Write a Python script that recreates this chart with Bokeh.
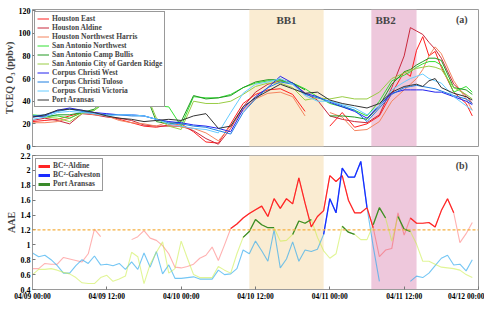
import math
from bokeh.plotting import figure
from bokeh.models import BoxAnnotation, Span, Label, Legend, LegendItem, FixedTicker, AllLabels
from bokeh.layouts import column
from bokeh.embed import file_html
from bokeh.resources import INLINE

nan = float("nan")

# ---------------- data: panel (a), TCEQ O3 (ppbv) ----------------
hours_a = list(range(0, 60, 2)) + [60, 61, 62, 63, 64, 65, 66, 68, 70, 71]

houston_east = [22, 23, 24, 27, 30, 29, 27, 24, 21, 18, 17, 19, 20, 13, 4, 3, 20, 38, 46, 50,
                51, 46, 31, nan, 18, 30, 17, 20, 27, 47, 66, 62, 85, 97, 80, 84, 70, 48, 38, 27]
houston_aldine = [23, 25, 23, 20, 29, 28, 26, 25, 23, 19, 18, 18, 18, 14, 7, 2, 16, 35, 48, 55,
                  58, 56, 47, 41, 27, 24, 22, 21, 28, 52, 80, 105, 102, 99, 92, 86, 78, 55, 45, 38]
houston_nw_harris = [21, 21, 22, 25, 30, 28, 27, 23, 21, 20, 18, 22, 17, 16, 12, 5, 18, 32, 42, 47,
                     48, 44, 27, nan, 30, 26, 14, 15, 22, 40, 50, 55, 60, 68, 80, 88, 82, 58, 42, 32]
sa_northwest = [28, 27, 27, 25, 30, 32, 40, 46, 46, 46, 36, 35, 18, 44, 43, 43, 46, 52, 56, 58,
                58, 56, 51, 44, 38, 35, 32, 27, 40, 58, 63, 66, 70, 73, 75, 75, 72, 48, 53, 48]
sa_camp_bullis = [27, 26, 28, 28, 30, 33, 45, 52, 52, 50, 22, 20, 22, 45, 42, 43, 45, 52, 57, 59,
                  59, 56, 50, nan, 27, 27, 26, 24, 36, 55, 66, 68, 72, 75, 78, 78, 76, 52, 50, 46]
sa_garden_ridge = [27, 26, 25, 22, 29, 32, 42, 51, 52, 51, 25, 18, 15, 40, 38, 38, 40, 46, 53, 56,
                   56, 52, 41, 43, 42, 44, 42, 42, 48, 60, 65, 67, 69, 70, 71, 70, 68, 52, 46, 42]
cc_west = [26, 27, 32, 34, 32, 30, 29, 28, 28, 27, 24, 22, 21, 19, 18, 16, 13, 33, 44, 52,
           62, 56, 47, 44, 39, 35, 31, 25, 36, 47, 50, 50, 50, 50, 49, 48, 48, 44, 40, 37]
cc_tuloso = [27, 28, 31, 33, 31, 29, 28, 28, 27, 27, 24, 21, 20, 18, 17, 14, 11, 30, 42, 52,
             57, 55, 46, 43, 40, 36, 32, 22, 34, 46, 52, 53, 54, 53, 52, 51, 49, 45, 42, 38]
cc_victoria = [24, 26, 30, 31, 30, 29, 27, 28, 28, 27, 24, 20, 18, 16, 15, 12, 30, 47, 55, 57,
               60, 55, 45, 40, 40, 37, 34, 28, 36, 50, 57, 60, 62, 64, 60, 58, 56, 44, 36, 32]
port_aransas_o3 = [26, 28, 32, 33, 32, 30, 27, 25, 24, 22, 23, 24, 23, 27, 29, 16, 18, 35, 43, 49,
                   55, 51, 47, 48, 41, 38, 36, 34, 38, 48, 53, 54, 55, 53, 58, 60, 52, 47, 44, 41]

series_a = [
    ("Houston East", houston_east, "#ff2020"),
    ("Houston Aldine", houston_aldine, "#c8283c"),
    ("Houston Northwest Harris", houston_nw_harris, "#f4845f"),
    ("San Antonio Northwest", sa_northwest, "#33e033"),
    ("San Antonio Camp Bullis", sa_camp_bullis, "#229922"),
    ("San Antonio City of Garden Ridge", sa_garden_ridge, "#99cc44"),
    ("Corpus Christi West", cc_west, "#2222ee"),
    ("Corpus Christi Tuloso", cc_tuloso, "#1e7fe0"),
    ("Corpus Christi Victoria", cc_victoria, "#66ccff"),
    ("Port Aransas", port_aransas_o3, "#333333"),
]

# ---------------- data: panel (b), AAE ----------------
hours_b = list(range(72))
aae_aldine = [0.68, 0.68, 0.75, 0.74, 0.74, 0.83, 0.81, 0.79, 0.77, 0.88,
              1.21, 1.11, nan, nan, nan, nan, 1.07, 1.11, 1.19, 1.09,
              1.06, 0.99, 0.88, 0.70, 0.69, 0.71, 0.74, 0.82, 0.86, 0.97,
              0.79, 1.00, 1.22, 1.28, 1.36, 1.42, 1.47, 1.52, 1.38, 1.62,
              1.49, 1.62, 1.55, 1.90, 1.56, 1.24, 1.38, 1.46, 1.93, 1.85,
              1.93, 1.60, 1.43, 1.43, 1.50, 1.23, 0.84, 0.93, 0.95, 1.43,
              1.13, 1.36, 1.29, 1.29, 1.30, 1.24, 1.46, 1.62, 1.43, 1.03,
              1.15, 1.30]
aae_galveston = [0.89, 0.84, 0.86, 0.80, 0.72, 0.62, 0.62, 0.72, 0.80, 0.75,
                 0.85, 0.73, 0.74, 0.72, 0.75, 0.67, 0.77, 0.67, 0.89, 0.70,
                 0.91, 0.61, 0.73, 0.55, 0.55, 0.56, 0.57, 0.54, 0.54, 0.54,
                 0.66, 0.60, 0.61, 0.68, 0.93, 0.88, 1.05, 0.92, 0.78, 1.20,
                 0.69, 0.81, 1.04, 0.78, 0.93, 0.91, 0.94, 1.14, 1.62, 1.43,
                 2.03, 1.91, 1.91, 2.12, 1.50, 0.98, 0.51, nan, nan, nan,
                 nan, 0.51, 0.58, 0.56, 0.62, 0.72, 0.82, 0.86, 0.73, 0.74,
                 0.65, 0.80]
aae_port_aransas = [0.60, 0.67, 0.67, 0.68, 0.66, 0.63, 0.61, 0.56, 0.49, 0.48,
                    0.48, 0.56, 0.59, 0.51, 0.54, 0.58, 0.90, 0.84, 0.48, 0.74,
                    0.90, 1.04, 0.62, 0.68, 1.05, 0.82, 0.60, 0.56, 0.56, 0.56,
                    0.71, 0.66, 0.62, 0.88, 1.10, 1.18, 1.34, 1.27, 1.23, 1.23,
                    1.05, 1.06, 1.14, 1.32, 1.29, 1.34, 1.10, 0.92, 0.82, 0.88,
                    1.25, 1.17, 1.14, 1.07, 1.07, 1.27, 1.50, 1.36, 1.05, 1.38,
                    1.21, 1.18, 1.01, 0.78, 0.78, 0.74, 0.70, 0.69, 0.68, 0.66,
                    0.60, 0.56]
# highlighted (dark) hour spans
aldine_hi = [(32, 55), (61, 68)]
galveston_hi = [(47, 54)]
port_aransas_hi = [(34, 39), (42, 45), (50, 52), (55, 57), (59, 61)]

aae_threshold = 1.2
bb1 = (35, 47)
bb2 = (54.7, 62)

x_ticks = [0, 12, 24, 36, 48, 60, 72]
x_tick_labels = ["04/09 00:00", "04/09 12:00", "04/10 00:00", "04/10 12:00",
                 "04/11 00:00", "04/11 12:00", "04/12 00:00"]
o3_ticks = [0, 20, 40, 60, 80, 100, 120]
o3_tick_labels = ["0", "20", "40", "60", "80", "100", "120"]
aae_ticks = [0.4, 0.6, 0.8, 1.0, 1.2, 1.4, 1.6, 1.8, 2.0, 2.2]
aae_tick_labels = ["0.4", "0.6", "0.8", "1", "1.2", "1.4", "1.6", "1.8", "2", "2.2"]


def mask(vals, spans):
    out = []
    for h, v in zip(hours_b, vals):
        keep = any(a <= h <= b for a, b in spans)
        out.append(v if keep else nan)
    return out


FONT = "Liberation Serif"


def style(p):
    p.grid.visible = False
    p.outline_line_color = "#9a9a9a"
    p.background_fill_color = "white"
    for ax in p.axis:
        ax.major_label_text_font = FONT
        ax.major_label_text_font_style = "bold"
        ax.major_label_text_font_size = "8px"
        ax.major_label_text_color = "black"
        ax.major_label_policy = AllLabels()
        ax.major_tick_in = 3
        ax.major_tick_out = 0
        ax.minor_tick_line_color = None
        ax.axis_line_color = "#9a9a9a"
        ax.major_tick_line_color = "#777777"
        ax.major_label_standoff = 2
        ax.axis_label_text_font = FONT
        ax.axis_label_text_font_style = "bold"
        ax.axis_label_text_font_size = "10px"
        ax.axis_label_standoff = 1
    p.xaxis.ticker = FixedTicker(ticks=x_ticks)


def add_boxes(p):
    p.add_layout(BoxAnnotation(left=bb1[0], right=bb1[1], fill_color="#faecd2",
                               fill_alpha=1, line_alpha=0, level="underlay"))
    p.add_layout(BoxAnnotation(left=bb2[0], right=bb2[1], fill_color="#eec8dc",
                               fill_alpha=1, line_alpha=0, level="underlay"))


# ---------------- panel (a) ----------------
p1 = figure(width=484, height=150, x_range=(0, 72), y_range=(0, 121),
            output_backend="svg", toolbar_location=None,
            min_border_left=22, min_border_right=6, min_border_top=9, min_border_bottom=4)
style(p1)
add_boxes(p1)
p1.xaxis.visible = False
p1.yaxis.ticker = FixedTicker(ticks=o3_ticks)
p1.yaxis.major_label_overrides = {t: s for t, s in zip(o3_ticks, o3_tick_labels)}
p1.yaxis.axis_label = "TCEQ O₃ (ppbv)"

items_a = []
for name, vals, col in series_a:
    r = p1.line(hours_a, vals, line_color=col, line_width=1)
    items_a.append(LegendItem(label=name, renderers=[r]))
leg_a = Legend(items=items_a, location="top_left", margin=2, padding=2, spacing=0,
               label_height=7, glyph_height=7, glyph_width=12, label_standoff=3,
               label_text_font=FONT, label_text_font_style="bold",
               label_text_font_size="7.5px", label_text_line_height=1.0,
               border_line_color="#333333", border_line_width=0.8,
               background_fill_alpha=1)
p1.add_layout(leg_a)

for txt, x in (("BB1", 41), ("BB2", 57)):
    p1.add_layout(Label(x=x, y=112, text=txt, text_align="center", text_baseline="middle",
                        text_font=FONT, text_font_style="bold", text_font_size="11px"))
p1.add_layout(Label(x=69.3, y=112, text="(a)", text_align="center", text_baseline="middle",
                    text_font=FONT, text_font_style="bold", text_font_size="10px"))

# ---------------- panel (b) ----------------
p2 = figure(width=484, height=153, x_range=(0, 72), y_range=(0.4, 2.2),
            output_backend="svg", toolbar_location=None,
            min_border_left=22, min_border_right=6, min_border_top=5, min_border_bottom=0)
style(p2)
add_boxes(p2)
p2.xaxis.major_label_text_font_size = "7.5px"
p2.xaxis.major_label_standoff = 2
p2.yaxis.ticker = FixedTicker(ticks=aae_ticks)
p2.yaxis.major_label_overrides = {t: s for t, s in zip(aae_ticks, aae_tick_labels)}
p2.xaxis.major_label_overrides = {t: s for t, s in zip(x_ticks, x_tick_labels)}
p2.yaxis.axis_label = "AAE"

p2.add_layout(Span(location=aae_threshold, dimension="width", line_color="#f5b041",
                   line_width=1.2, line_dash="3 2"))

# pale full series
p2.line(hours_b, aae_aldine, line_color="#ff2020", line_alpha=0.35, line_width=1.1)
p2.line(hours_b, aae_galveston, line_color="#2aa8ee", line_alpha=0.65, line_width=1.1)
p2.line(hours_b, aae_port_aransas, line_color="#c8ec40", line_alpha=0.55, line_width=1.1)
# highlighted parts
p2.line(hours_b, mask(aae_aldine, aldine_hi), line_color="#ff2525", line_width=1.2)
p2.line(hours_b, mask(aae_galveston, galveston_hi), line_color="#1a2cff", line_width=1.3)
p2.line(hours_b, mask(aae_port_aransas, port_aransas_hi), line_color="#3a8a2a", line_width=1.3)

d1 = p2.line([nan], [nan], line_color="#ff2525", line_width=3)
d2 = p2.line([nan], [nan], line_color="#1a2cff", line_width=3)
d3 = p2.line([nan], [nan], line_color="#3a8a2a", line_width=3)
leg_b = Legend(items=[LegendItem(label="BC²-Aldine", renderers=[d1]),
                      LegendItem(label="BC²-Galveston", renderers=[d2]),
                      LegendItem(label="Port Aransas", renderers=[d3])],
               location="top_left", margin=3, padding=2, spacing=0,
               label_height=8, glyph_height=8, glyph_width=12, label_standoff=3,
               label_text_font=FONT, label_text_font_style="bold",
               label_text_font_size="7.5px", label_text_line_height=1.0,
               border_line_color="#333333", border_line_width=0.8,
               background_fill_alpha=1)
p2.add_layout(leg_b)
p2.add_layout(Label(x=69.3, y=2.07, text="(b)", text_align="center", text_baseline="middle",
                    text_font=FONT, text_font_style="bold", text_font_size="10px"))

layout = column(p1, p2, spacing=0)
open("out.html", "w").write(file_html(layout, INLINE))
